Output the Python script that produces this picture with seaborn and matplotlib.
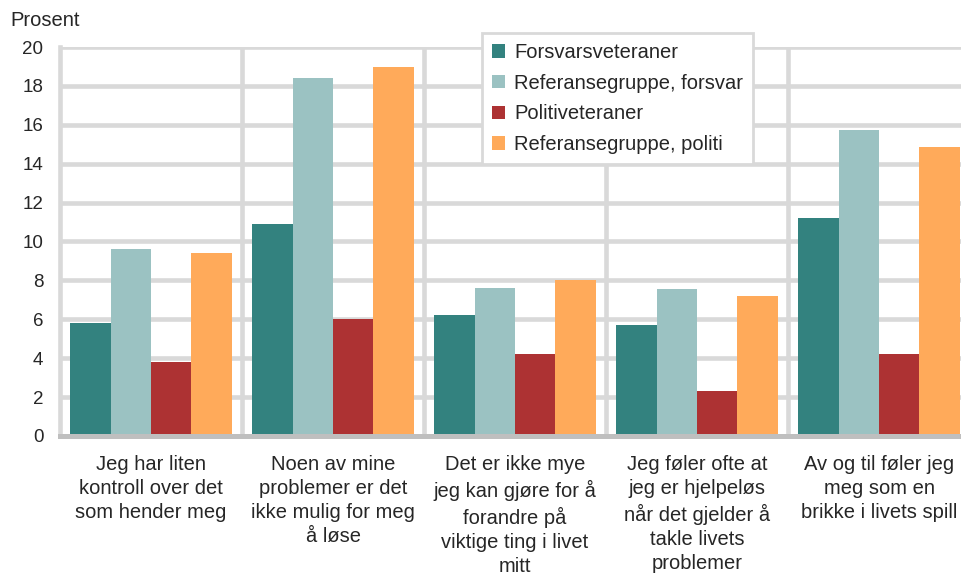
import matplotlib
matplotlib.use("Agg")
import matplotlib.pyplot as plt
import seaborn as sns
import pandas as pd

categories = [
    "Jeg har liten\nkontroll over det\nsom hender meg",
    "Noen av mine\nproblemer er det\nikke mulig for meg\nå løse",
    "Det er ikke mye\njeg kan gjøre for å\nforandre på\nviktige ting i livet\nmitt",
    "Jeg føler ofte at\njeg er hjelpeløs\nnår det gjelder å\ntakle livets\nproblemer",
    "Av og til føler jeg\nmeg som en\nbrikke i livets spill",
]
series_names = ["Forsvarsveteraner", "Referansegruppe, forsvar",
                "Politiveteraner", "Referansegruppe, politi"]
forsvarsveteraner = [5.8, 10.9, 6.2, 5.7, 11.2]
ref_forsvar = [9.6, 18.4, 7.6, 7.55, 15.75]
politiveteraner = [3.8, 6.0, 4.2, 2.3, 4.2]
ref_politi = [9.4, 18.95, 8.0, 7.2, 14.85]
yticks = [0, 2, 4, 6, 8, 10, 12, 14, 16, 18, 20]
colors = ["#33827F", "#9BC2C2", "#AD3233", "#FFAA5A"]

rows = []
for name, vals in zip(series_names, [forsvarsveteraner, ref_forsvar, politiveteraner, ref_politi]):
    for c, v in zip(categories, vals):
        rows.append({"kategori": c, "serie": name, "verdi": v})
df = pd.DataFrame(rows)

sns.set_style("white")
plt.rcParams["font.family"] = ["Liberation Sans", "DejaVu Sans"]

fig = plt.figure(figsize=(9.62, 5.78), dpi=100)
W, H = 962, 578
ax = fig.add_axes([60 / W, 142 / H, 910 / W, 389 / H])

sns.barplot(data=df, x="kategori", y="verdi", hue="serie", order=categories,
            hue_order=series_names, palette=colors, saturation=1, width=0.89,
            ax=ax, edgecolor="none", linewidth=0, errorbar=None)

ax.set_ylim(0, 20)
ax.set_xlim(-0.5, 4.5)
ax.set_yticks(yticks)
ax.set_yticklabels([str(t) for t in yticks], fontsize=13.5)
ax.set_xlabel("")
ax.set_ylabel("")
ax.tick_params(axis="x", labelsize=14.5, length=0, pad=14)
ax.tick_params(axis="y", length=0, pad=12)
for lab in ax.get_xticklabels():
    lab.set_linespacing(1.33)

ax.set_xticks([0.5, 1.5, 2.5, 3.5], minor=True)
ax.tick_params(axis="x", which="minor", length=0)
ax.set_axisbelow(True)
ax.grid(axis="y", which="major", color="#D9D9D9", linewidth=3.3)
ax.grid(axis="x", which="minor", color="#D9D9D9", linewidth=3.3)
ax.grid(axis="x", which="major", visible=False)

for s in ["top", "right"]:
    ax.spines[s].set_visible(False)
ax.spines["left"].set_color("#D9D9D9")
ax.spines["left"].set_linewidth(3.3)
ax.spines["bottom"].set_color("#BFBFBF")
ax.spines["bottom"].set_linewidth(3.6)

fig.text(10 / W, 1 - 21 / H, "Prosent", fontsize=14.5, va="center", ha="left")

leg = ax.legend(loc="upper left", bbox_to_anchor=(482 / W, 1 - 33 / H),
                bbox_transform=fig.transFigure, fontsize=14.5, frameon=True,
                fancybox=False, edgecolor="#D9D9D9", framealpha=1,
                handlelength=0.65, handleheight=0.65, handletextpad=0.45,
                labelspacing=0.58, borderpad=0.5, borderaxespad=0)
leg.get_frame().set_linewidth(2)
leg.set_title(None)

fig.savefig("out.png", dpi=100)
